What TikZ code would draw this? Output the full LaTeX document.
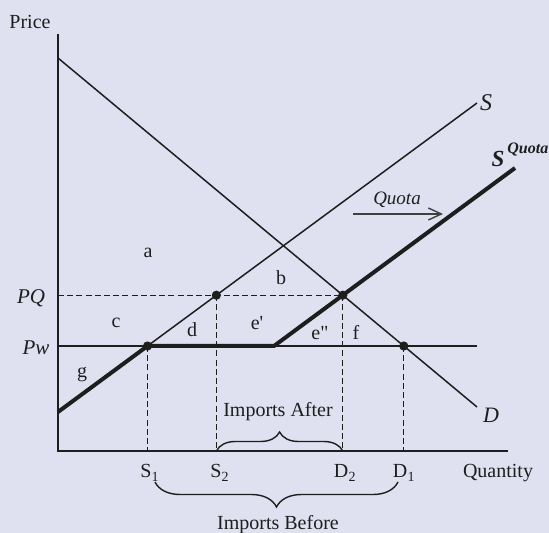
\documentclass[tikz,border=0pt]{standalone}
\usepackage{fontspec}
\setmainfont{Liberation Serif}
\usetikzlibrary{arrows.meta,decorations.pathreplacing}
\definecolor{panelbg}{RGB}{223,225,240}
\definecolor{ink}{RGB}{30,30,30}

\begin{document}
\begin{tikzpicture}[x=0.5pt, y=0.5pt,
    axisline/.style={line width=1pt, draw=ink},
    curve/.style={line width=0.75pt, draw=ink},
    quotacurve/.style={line width=2pt, draw=ink, line join=round},
    guide/.style={line width=0.5pt, draw=ink, dash pattern=on 3pt off 1.6pt},
    dot/.style={circle, fill=ink, inner sep=0pt, minimum size=4.6pt},
    lab/.style={font=\fontsize{10}{12}\selectfont, text=ink, inner sep=1pt},
    sublab/.style={font=\fontsize{7}{8}\selectfont, text=ink, inner sep=0pt},
    bracedraw/.style={decorate, decoration={brace, amplitude=#1}, line width=0.7pt, draw=ink}]
    \fill[panelbg] (-58,-82) rectangle (491,451);
    \useasboundingbox (-58,-82) rectangle (491,451);
    \coordinate (O) at (0,0);
    \coordinate (ytop) at (0,417);
    \coordinate (xend) at (450,0);
    \coordinate (Dtop) at (0,393);
    \coordinate (Dend) at (419,44);
    \coordinate (Sbot) at (0,39);
    \coordinate (Send) at (419,348);
    \coordinate (Pw0) at (0,105);
    \coordinate (Pwend) at (419,105);
    \coordinate (kink) at (216,105);
    \coordinate (SQend) at (457,283);
    \coordinate (S1) at (intersection of Sbot--Send and Pw0--Pwend);
    \coordinate (D1) at (intersection of Dtop--Dend and Pw0--Pwend);
    \coordinate (D2) at (intersection of kink--SQend and Dtop--Dend);
    \coordinate (PQ0) at (O |- D2);
    \coordinate (S2) at (intersection of Sbot--Send and PQ0--D2);
    \coordinate (beforeL) at (97,-31);
    \coordinate (beforeR) at (340,-31);
    \coordinate (quotaA) at (295,237);
    \coordinate (quotaB) at (385,237);

    \draw[axisline] (ytop) -- (O) -- (xend);
    \draw[curve] (Dtop) -- (Dend);
    \draw[curve] (Sbot) -- (Send);
    \draw[curve] (Pw0) -- (Pwend);
    \draw[guide] (PQ0) -- (D2);
    \foreach \p in {S1,S2,D2,D1}
      \draw[guide] (\p) -- (\p |- O);
    \draw[quotacurve] (Sbot) -- (S1) -- (kink) -- (SQend);
    \foreach \p in {S1,S2,D2,D1}
      \node[dot] (dot\p) at (\p) {};
    \draw[-{Straight Barb[length=6.5pt,width=6pt]}, line width=0.7pt, draw=ink!85] (quotaA) -- (quotaB);
    \draw[bracedraw=9.5pt] (S2 |- O) -- (D2 |- O);
    \draw[bracedraw=12.5pt] (beforeR) -- (beforeL);

    \node[lab] (price) at (-28,429) {Price};
    \node[lab] (quantity) at (440,-22) {Quantity};
    \node[lab, font=\fontsize{12}{14}\selectfont\itshape] (Slab) at (428,348) {S};
    \node[lab, font=\fontsize{11}{13}\selectfont\itshape] (Dlab) at (433,36) {D};
    \node[lab, font=\fontsize{11.5}{13}\selectfont\bfseries\itshape] (SQlab) at (440,292) {S};
    \node[lab, font=\fontsize{8}{9.5}\selectfont\bfseries\itshape, anchor=west, inner sep=0pt] (SQsup) at (449,301) {Quota};
    \node[lab, font=\fontsize{9.5}{11}\selectfont\itshape] (quotalab) at (339,251) {Quota};
    \node[lab, font=\fontsize{10.5}{12}\selectfont\itshape] (PQlab) at (-27,153) {PQ};
    \node[lab, font=\fontsize{10.5}{12}\selectfont\itshape] (Pwlab) at (-22,103) {Pw};
    \node[lab] (areaA) at (90,198) {a};
    \node[lab] (areaB) at (223,173) {b};
    \node[lab] (areaC) at (58,128) {c};
    \node[lab] (areaD) at (134,121) {d};
    \node[lab] (areaE1) at (199,128) {e\textquotesingle};
    \node[lab] (areaE2) at (262,118) {e\textquotedbl};
    \node[lab] (areaF) at (298,119) {f};
    \node[lab] (areaG) at (24,76) {g};
    \node[lab] (lblS1) at (88,-20) {S};
    \node[sublab] (subS1) at (97,-26) {1};
    \node[lab] (lblS2) at (158,-20) {S};
    \node[sublab] (subS2) at (167,-26) {2};
    \node[lab] (lblD2) at (283,-20) {D};
    \node[sublab] (subD2) at (294,-26) {2};
    \node[lab] (lblD1) at (342,-20) {D};
    \node[sublab] (subD1) at (353,-26) {1};
    \node[lab] (after) at (220,39) {Imports After};
    \node[lab] (before) at (220,-74) {Imports Before};
\end{tikzpicture}
\end{document}
